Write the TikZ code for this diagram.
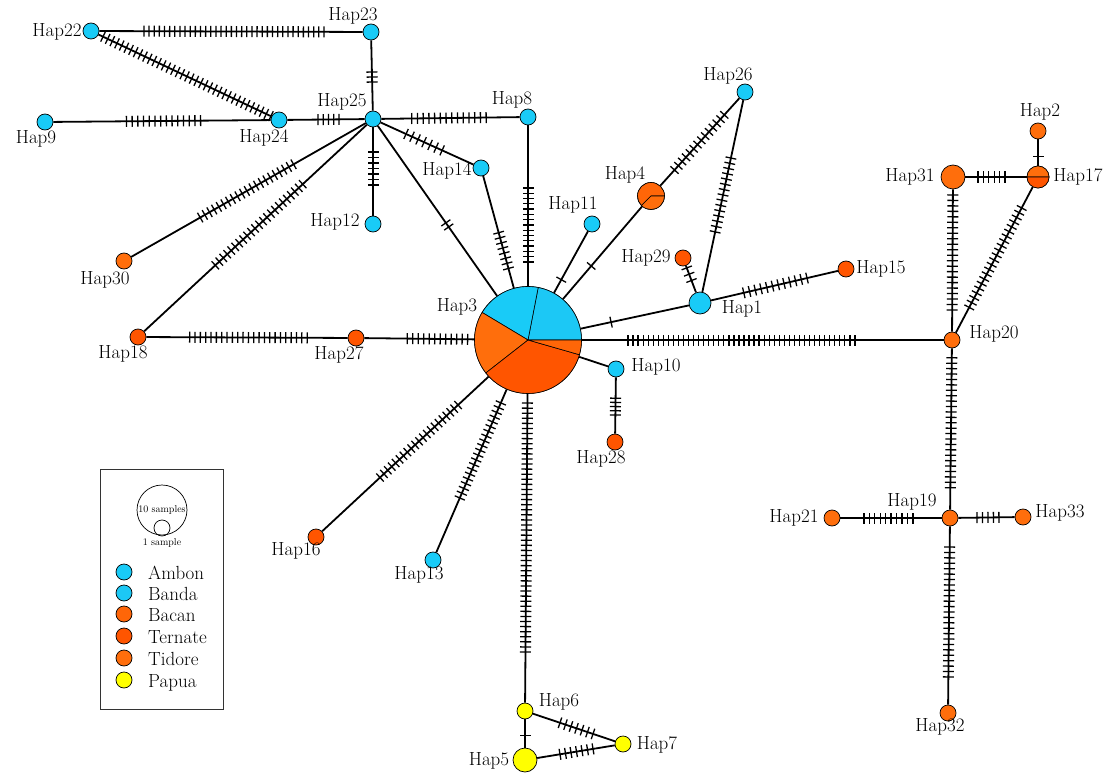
\documentclass[tikz,border=0pt]{standalone}
\usetikzlibrary{calc}
\definecolor{ambon}{RGB}{25,203,247}
\definecolor{banda}{RGB}{28,200,245}
\definecolor{bacan}{RGB}{255,102,8}
\definecolor{ternate}{RGB}{255,85,0}
\definecolor{tidore}{RGB}{255,110,12}
\definecolor{papua}{RGB}{255,255,0}
\tikzset{
  hap/.style={circle, draw=black, line width=0.7pt, inner sep=0pt, minimum size=16pt},
  edge/.style={line width=1.8pt},
  tk/.style={fill=black, rectangle, inner sep=0pt, minimum width=1.3pt, minimum height=11pt, sloped},
  lab/.style={font=\fontsize{19}{21}\selectfont, inner sep=0pt},
  leglab/.style={font=\fontsize{19}{21}\selectfont, inner sep=0pt, anchor=base west},
  small/.style={font=\fontsize{10}{11}\selectfont, inner sep=0pt},
}
\newcommand\tks[5]{\foreach \k in {1,...,#5}{\pgfmathsetmacro\tkpos{#3+(#4-#3)*(\k-1)/max(#5-1,1)}\path (#1.center) -- (#2.center) node[tk,pos=\tkpos]{};}}
\newcommand\slice[5]{\filldraw[fill=#5, draw=black, line width=0.6pt] (#1) -- ++({-#3}:#2) arc[start angle={-#3}, end angle={-#4}, radius=#2] -- cycle;}
\begin{document}
\begin{tikzpicture}[x=1pt,y=-1pt]
\useasboundingbox (0,0) rectangle (1114,773);
\fill[white] (0,0) rectangle (1114,773);
% nodes
\node[hap, fill=ambon] (h22) at (91,31) {};
\node[hap, fill=ambon] (h23) at (371,32) {};
\node[hap, fill=ambon] (h25) at (373,119) {};
\node[hap, fill=ambon] (h24) at (279,120) {};
\node[hap, fill=ambon] (h9) at (45,122) {};
\node[hap, fill=ambon] (h8) at (528,117) {};
\node[hap, fill=ambon] (h14) at (481,168) {};
\node[hap, fill=ambon] (h12) at (373,224) {};
\node[hap, fill=tidore] (h30) at (124,261) {};
\node[hap, fill=ternate] (h18) at (138,337) {};
\node[hap, fill=ternate] (h27) at (356,338) {};
\node[hap, minimum size=107pt] (h3) at (528,340) {};
\node[hap, fill=ambon] (h11) at (592,224) {};
\node[hap, minimum size=27pt] (h4) at (651,196) {};
\node[hap, fill=ambon] (h26) at (745,92) {};
\node[hap, fill=ternate] (h29) at (683,258) {};
\node[hap, fill=ambon, minimum size=22pt] (h1) at (700,303) {};
\node[hap, fill=ternate] (h15) at (846,269) {};
\node[hap, fill=tidore] (h2) at (1038,131) {};
\node[hap, fill=tidore, minimum size=24pt] (h31) at (953,177) {};
\node[hap, minimum size=22pt] (h17) at (1038,177) {};
\node[hap, fill=tidore] (h20) at (952,340) {};
\node[hap, fill=ambon] (h10) at (616,369) {};
\node[hap, fill=ternate] (h28) at (615,442) {};
\node[hap, fill=ternate] (h16) at (316,537) {};
\node[hap, fill=ambon] (h13) at (433,560) {};
\node[hap, fill=tidore] (h19) at (950,518) {};
\node[hap, fill=tidore] (h21) at (832,518) {};
\node[hap, fill=tidore] (h33) at (1023,517) {};
\node[hap, fill=tidore] (h32) at (948,713) {};
\node[hap, fill=papua] (h6) at (525,711) {};
\node[hap, fill=papua, minimum size=24pt] (h5) at (525,760) {};
\node[hap, fill=papua] (h7) at (623,744) {};
% pies
\slice{h3.center}{53.5}{0}{79}{banda}
\slice{h3.center}{53.5}{79}{149}{ambon}
\slice{h3.center}{53.5}{149}{218}{tidore}
\slice{h3.center}{53.5}{218}{344}{ternate}
\slice{h3.center}{53.5}{344}{360}{bacan}
\slice{h4.center}{13.5}{0}{225}{bacan}
\slice{h4.center}{13.5}{225}{360}{tidore}
\slice{h17.center}{11}{0}{180}{tidore}
\slice{h17.center}{11}{180}{360}{ternate}
% edges
\foreach \a/\b in {h22/h23, h22/h24, h23/h25, h9/h24, h24/h25, h25/h8, h25/h14, h25/h12,
  h25/h30, h25/h18, h25/h3, h14/h3, h8/h3, h11/h3, h4/h3, h4/h26, h26/h1, h1/h3, h29/h1,
  h1/h15, h3/h20, h3/h10, h10/h28, h18/h27, h27/h3, h3/h16, h3/h13, h3/h6, h6/h5, h6/h7,
  h5/h7, h2/h17, h31/h17, h31/h20, h17/h20, h20/h19, h19/h32, h21/h19, h19/h33}
  \draw[edge] (\a) -- (\b);
% mutation ticks
\foreach \a/\b/\s/\e/\n in {h22/h23/0.189/0.832/36, h22/h24/0.064/0.957/37,
  h23/h25/0.46/0.575/3, h9/h24/0.348/0.665/14, h24/h25/0.415/0.638/5,
  h25/h8/0.25/0.73/14, h25/h14/0.306/0.64/7, h25/h12/0.314/0.629/7,
  h25/h30/0.319/0.694/21, h25/h18/0.299/0.671/23, h25/h3/0.47/0.4885/2,
  h14/h3/0.376/0.584/8, h8/h3/0.318/0.65/15, h11/h3/0.48/0.48/1, h4/h3/0.486/0.486/1,
  h4/h26/0.25/0.78/14, h26/h1/0.313/0.663/15, h1/h3/0.517/0.517/1, h29/h1/0.22/0.5/3,
  h1/h15/0.30/0.733/12, h3/h20/0.236/0.771/46, h10/h28/0.4/0.63/5,
  h18/h27/0.237/0.776/23, h27/h3/0.298/0.649/12, h3/h16/0.33/0.698/21,
  h3/h13/0.286/0.718/21, h3/h6/0.17/0.841/50, h6/h5/0.5/0.5/1, h6/h7/0.357/0.694/7,
  h5/h7/0.357/0.694/7, h2/h17/0.55/0.55/1, h31/h17/0.294/0.612/6,
  h31/h20/0.11/0.816/22, h17/h20/0.19/0.80/22, h20/h19/0.1/0.83/25,
  h19/h32/0.149/0.815/25, h21/h19/0.27/0.686/10, h19/h33/0.37/0.67/5}
  {\tks{\a}{\b}{\s}{\e}{\n}}
% labels
\node[lab] (l22) at (57,32) {Hap22};
\node[lab] (l23) at (353,16) {Hap23};
\node[lab] (l25) at (342,102) {Hap25};
\node[lab] (l24) at (264,138) {Hap24};
\node[lab] (l9) at (36,139) {Hap9};
\node[lab] (l8) at (512,100) {Hap8};
\node[lab] (l14) at (447,171) {Hap14};
\node[lab] (l12) at (335,222) {Hap12};
\node[lab] (l30) at (105,280) {Hap30};
\node[lab] (l18) at (123,354) {Hap18};
\node[lab] (l27) at (339,355) {Hap27};
\node[lab] (l3) at (457,307) {Hap3};
\node[lab] (l11) at (573,205) {Hap11};
\node[lab] (l4) at (625,175) {Hap4};
\node[lab] (l26) at (728,76) {Hap26};
\node[lab] (l29) at (646,258) {Hap29};
\node[lab] (l1) at (742,309) {Hap1};
\node[lab] (l15) at (881,269) {Hap15};
\node[lab] (l2) at (1040,112) {Hap2};
\node[lab] (l31) at (910,177) {Hap31};
\node[lab] (l17) at (1078,177) {Hap17};
\node[lab] (l20) at (994,334) {Hap20};
\node[lab] (l10) at (656,367) {Hap10};
\node[lab] (l28) at (601,459) {Hap28};
\node[lab] (l16) at (296,551) {Hap16};
\node[lab] (l13) at (419,575) {Hap13};
\node[lab] (l19) at (912,502) {Hap19};
\node[lab] (l21) at (794,518) {Hap21};
\node[lab] (l33) at (1060,513) {Hap33};
\node[lab] (l32) at (940,727) {Hap32};
\node[lab] (l6) at (559,702) {Hap6};
\node[lab] (l5) at (489,761) {Hap5};
\node[lab] (l7) at (657,745) {Hap7};
% legend
\node[draw=black!80, line width=0.8pt, minimum width=123pt, minimum height=240pt, inner sep=0pt] (legbox) at (161.5,589) {};
\node[circle, draw=black, line width=0.7pt, minimum size=50pt, inner sep=0pt] (big) at (162,510) {};
\node[circle, draw=black, line width=0.7pt, minimum size=16pt, inner sep=0pt] (one) at (162,528) {};
\node[small] (t10) at (162,510) {10 samples};
\node[small] (t1) at (162,543) {1 sample};
\foreach \c/\t/\y [count=\i] in {ambon/Ambon/572, banda/Banda/593, bacan/Bacan/614, ternate/Ternate/636, tidore/Tidore/658, papua/Papua/680}{
  \node[hap, fill=\c] (lc\i) at (124,\y) {};
  \node[leglab] (lt\i) at (148,\y+7) {\t};
}
\end{tikzpicture}
\end{document}
